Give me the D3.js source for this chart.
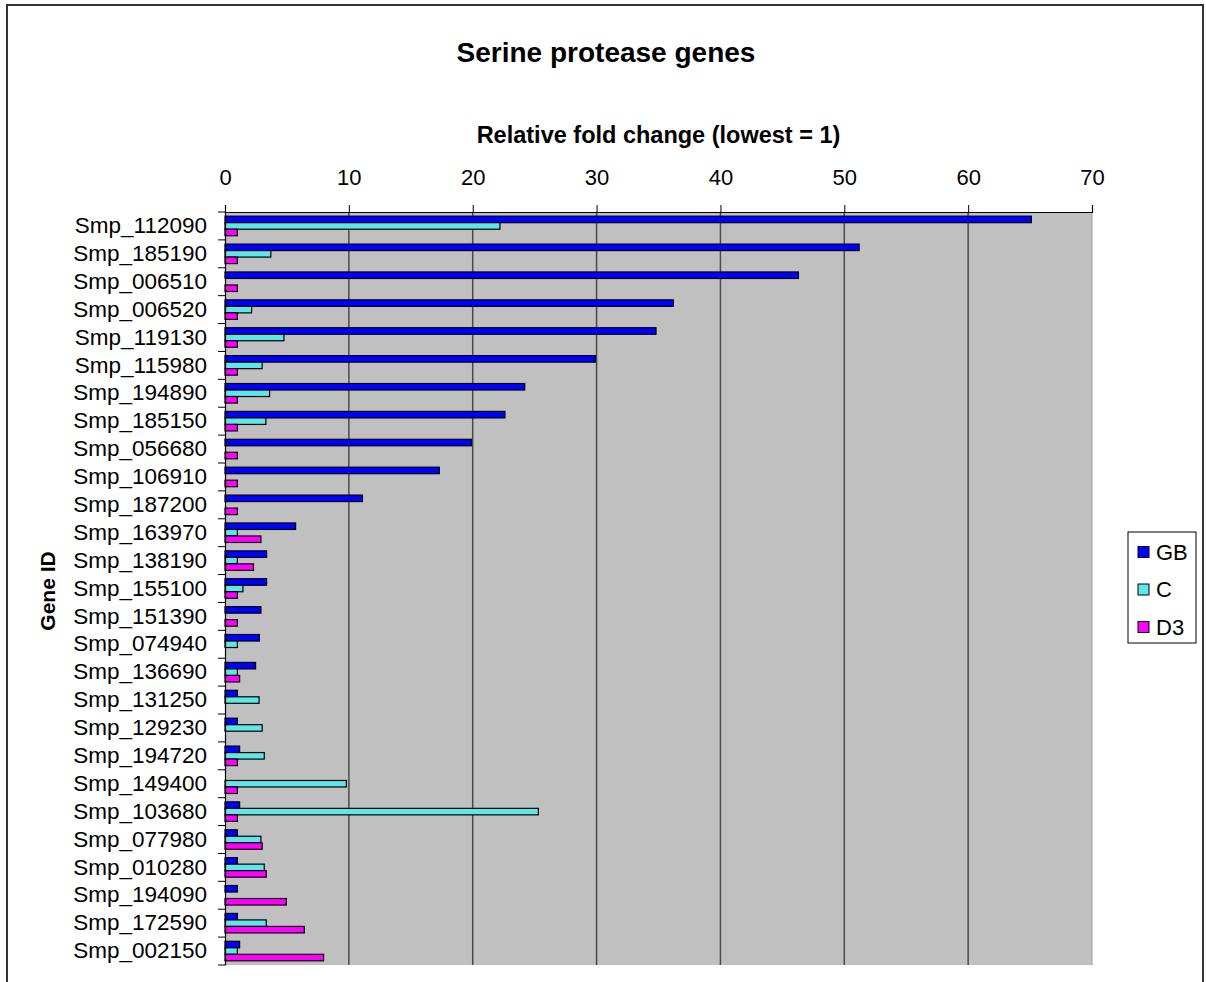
<!DOCTYPE html>
<html><head><meta charset="utf-8">
<script src="https://cdn.jsdelivr.net/npm/d3@7"></script>
<style>body{margin:0;background:#fff}svg{display:block}text{font-family:"Liberation Sans",Arial,sans-serif;fill:#000}</style>
</head><body>
<script>
const categories = ["Smp_112090","Smp_185190","Smp_006510","Smp_006520","Smp_119130","Smp_115980","Smp_194890","Smp_185150","Smp_056680","Smp_106910","Smp_187200","Smp_163970","Smp_138190","Smp_155100","Smp_151390","Smp_074940","Smp_136690","Smp_131250","Smp_129230","Smp_194720","Smp_149400","Smp_103680","Smp_077980","Smp_010280","Smp_194090","Smp_172590","Smp_002150"];
const seriesNames = ["GB","C","D3"];
const gbValues = [65.1,51.2,46.3,36.2,34.8,29.9,24.2,22.6,19.9,17.3,11.1,5.7,3.36,3.36,2.9,2.77,2.47,1.0,1.0,1.18,null,1.18,1.0,1.0,1.0,1.0,1.18];
const cValues  = [22.2,3.7,null,2.15,4.76,3.0,3.6,3.3,null,null,null,1.0,1.0,1.45,null,1.0,1.0,2.75,3.0,3.17,9.8,25.3,2.9,3.17,null,3.33,1.0];
const d3Values = [1,1,1,1,1,1,1,1,1,1,1,2.9,2.3,1.0,1.0,null,1.18,null,null,1.0,1.0,1.0,3.0,3.33,4.95,6.4,7.96];
const xTicks = [0,10,20,30,40,50,60,70];

const colors = {GB:"#0000ff", C:"#5ee6e8", D3:"#ff00ff"};
const seriesData = {GB:gbValues, C:cValues, D3:d3Values};

const W=1206,H=982;
const svg=d3.select("body").append("svg").attr("width",W).attr("height",H);
svg.append("rect").attr("x",7).attr("y",5).attr("width",1196).attr("height",1000)
  .attr("fill","#fff").attr("stroke","#333").attr("stroke-width",2);

const L=225,R=1092,T=212,B=965;
const x=d3.scaleLinear().domain([0,70]).range([L,R]);
const y=d3.scaleBand().domain(categories).range([T,B]).paddingInner(0.3).paddingOuter(0.15);
const ys=d3.scaleBand().domain(seriesNames).range([0,y.bandwidth()]);

svg.append("rect").attr("x",L).attr("y",T).attr("width",R-L).attr("height",B-T).attr("fill","#c0c0c0");
svg.append("g").selectAll("line").data(xTicks.filter(d=>d>0&&d<70)).join("line")
  .attr("x1",d=>x(d)).attr("x2",d=>x(d)).attr("y1",T).attr("y2",B)
  .attr("stroke","#4a4a4a").attr("stroke-width",1.5);
svg.append("line").attr("x1",R).attr("x2",R).attr("y1",T).attr("y2",B).attr("stroke","#9a9a9a").attr("stroke-width",1);

const rows=[];
categories.forEach((c,i)=>seriesNames.forEach(s=>{const v=seriesData[s][i]; if(v!=null) rows.push({c,s,v});}));
svg.append("g").selectAll("rect").data(rows).join("rect")
  .attr("x",x(0)).attr("y",d=>y(d.c)+ys(d.s)).attr("width",d=>x(d.v)-x(0)).attr("height",ys.bandwidth())
  .attr("fill",d=>colors[d.s]).attr("stroke","#000").attr("stroke-width",1.2);

const xa=svg.append("g").attr("transform",`translate(0,${T})`)
  .call(d3.axisTop(x).tickValues(xTicks).tickSize(7).tickPadding(20));
xa.select(".domain").attr("stroke","#000").attr("stroke-width",1.2);
xa.selectAll(".tick line").attr("stroke","#000");
xa.selectAll("text").attr("font-size",22).attr("font-family","Liberation Sans, Arial, sans-serif").attr("fill","#000");

const ya=svg.append("g").attr("transform",`translate(${L},0)`).call(d3.axisLeft(y).tickSize(0).tickPadding(18));
ya.select(".domain").attr("stroke","#000").attr("stroke-width",1.2);
ya.selectAll("text").attr("font-size",22.5).attr("font-family","Liberation Sans, Arial, sans-serif").attr("fill","#000");
const bounds=d3.range(categories.length+1).map(i=>T+i*y.step());
svg.append("g").selectAll("line").data(bounds).join("line")
  .attr("x1",L-7).attr("x2",L).attr("y1",d=>d).attr("y2",d=>d).attr("stroke","#000");

svg.append("text").attr("x",606).attr("y",62).attr("text-anchor","middle")
  .attr("font-size",28).attr("font-weight","bold").text("Serine protease genes");
svg.append("text").attr("x",(L+R)/2).attr("y",143).attr("text-anchor","middle")
  .attr("font-size",23.5).attr("font-weight","bold").text("Relative fold change (lowest = 1)");
svg.append("text").attr("transform","translate(55,591) rotate(-90)").attr("text-anchor","middle")
  .attr("font-size",21).attr("font-weight","bold").text("Gene ID");

const lg=svg.append("g");
lg.append("rect").attr("x",1128).attr("y",532).attr("width",68).attr("height",111).attr("fill","#fff").attr("stroke","#000");
const ly=d3.scalePoint().domain(seriesNames).range([552,627]);
lg.selectAll(".sw").data(seriesNames).join("rect").attr("class","sw")
  .attr("x",1138).attr("y",d=>ly(d)-5.5).attr("width",11).attr("height",11)
  .attr("fill",d=>colors[d]).attr("stroke","#000");
lg.selectAll(".lt").data(seriesNames).join("text").attr("class","lt")
  .attr("x",1156).attr("y",d=>ly(d)).attr("dy","0.36em").attr("font-size",22).text(d=>d);
</script>
</body></html>
